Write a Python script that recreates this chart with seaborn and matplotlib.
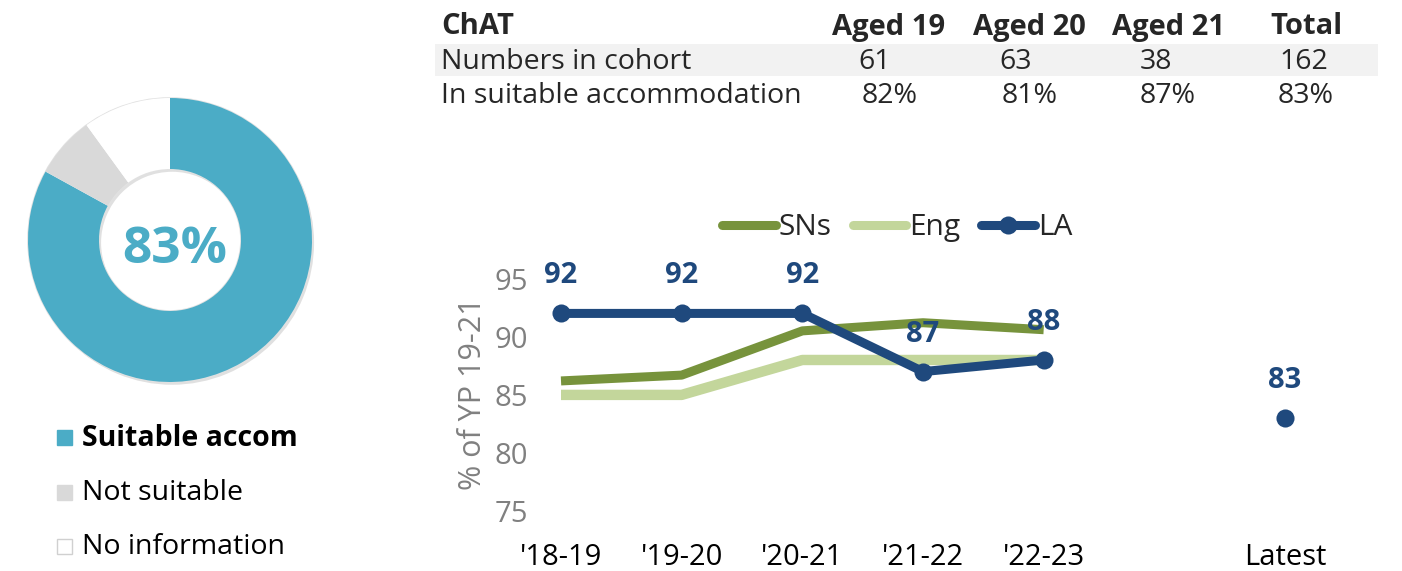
import matplotlib
matplotlib.use("Agg")
import matplotlib.pyplot as plt
import matplotlib.patheffects as pe
from matplotlib.patches import Wedge, Rectangle
from matplotlib.lines import Line2D
import numpy as np
import pandas as pd
import seaborn as sns

sns.set_theme(style="white")
plt.rcParams["font.family"] = ["Open Sans", "DejaVu Sans"]

# ---- data ----
donut_labels = ["Suitable accom", "Not suitable", "No information"]
donut_values = [83, 7, 10]
headline = "83%"

table_header = ["ChAT", "Aged 19", "Aged 20", "Aged 21", "Total"]
row_cohort = ["Numbers in cohort", "61", "63", "38", "162"]
row_suitable = ["In suitable accommodation", "82%", "81%", "87%", "83%"]

periods = ["'18-19", "'19-20", "'20-21", "'21-22", "'22-23", "", "Latest"]
sns_values = [86.2, 86.7, 90.5, 91.2, 90.6]
eng_values = [85, 85, 88, 88, 88]
la_values = [92, 92, 92, 87, 88]
la_latest = 83

# ---- styling ----
W, H = 1402, 571
C_SUIT = "#4BACC6"
C_NOT = "#D9D9D9"
C_NOINFO = "#FFFFFF"
C_SNS = "#77933C"
C_ENG = "#C3D69B"
C_LA = "#1F497D"
C_GREY = "#808080"
FS_TAB = 20.5
FS_HEAD = 21
FS_TICK = 21
FS_LAB = 21


def fx(x):
    return x / W


def fy(y):
    return 1 - y / H


fig = plt.figure(figsize=(W / 100, H / 100), dpi=100)

# ---- donut ----
cx, cy, r = 170, 240, 142
half = r * 1.05
dax = fig.add_axes([fx(cx - half), fy(cy + half), 2 * half / W, 2 * half / H])
ring = Wedge((0, 0), 1, 0, 360, width=0.5, facecolor="white", edgecolor="#E2E2E2",
             linewidth=1.2, zorder=0)
ring.set_path_effects([pe.SimplePatchShadow(offset=(1.5, -2), shadow_rgbFace="#999999",
                                            alpha=0.3), pe.Normal()])
dax.add_patch(ring)
dax.pie(donut_values, colors=[C_SUIT, C_NOT, C_NOINFO], startangle=90,
        counterclock=False, radius=1,
        wedgeprops=dict(width=0.5, edgecolor="none"))
dax.set_xlim(-1.05, 1.05)
dax.set_ylim(-1.05, 1.05)
dax.set_aspect("equal")
dax.axis("off")
fig.text(fx(175), fy(250), headline, color=C_SUIT, fontsize=37,
         fontweight="bold", ha="center", va="center")

# donut legend
legend_y = [437, 492, 546]
for lab, col, yy, i in zip(donut_labels, [C_SUIT, C_NOT, C_NOINFO], legend_y, range(3)):
    fig.patches.append(Rectangle((fx(57), fy(yy + 8)), 15 / W, 15 / H,
                                 transform=fig.transFigure, facecolor=col,
                                 edgecolor="#D0D0D0" if col == C_NOINFO else col,
                                 linewidth=1))
    fig.text(fx(82), fy(yy + 1), lab, fontsize=FS_TAB,
             fontweight="bold" if i == 0 else "normal",
             color="black", ha="left", va="center")

# ---- table ----
fig.patches.append(Rectangle((fx(435), fy(76)), (1378 - 435) / W, 32 / H,
                             transform=fig.transFigure, facecolor="#F2F2F2",
                             edgecolor="none", zorder=0))
col_x = [441, 889, 1029, 1168, 1306]
fig.text(fx(col_x[0]), fy(27), table_header[0], fontsize=FS_HEAD, fontweight="bold",
         ha="left", va="center")
for x, t in zip(col_x[1:], table_header[1:]):
    fig.text(fx(x), fy(27), t, fontsize=FS_HEAD, fontweight="bold",
             ha="center", va="center")
for row, yy, xs in [(row_cohort, 62, [875, 1016, 1156, 1304]),
                    (row_suitable, 96, [890, 1030, 1168, 1306])]:
    fig.text(fx(col_x[0]), fy(yy), row[0], fontsize=FS_TAB, ha="left", va="center")
    for x, t in zip(xs, row[1:]):
        fig.text(fx(x), fy(yy), t, fontsize=FS_TAB, ha="center", va="center")

# ---- line chart ----
pos = np.arange(len(periods))
x0, xstep = 561, 120.67
xl, xr = -0.25, 6.4
y90, ystep = 336.7, 11.64
yl, yt = 73, 97
left_px = x0 + xl * xstep
right_px = x0 + xr * xstep
bottom_px = y90 + (90 - yl) * ystep
top_px = y90 - (yt - 90) * ystep
ax = fig.add_axes([fx(left_px), fy(bottom_px), (right_px - left_px) / W,
                   (bottom_px - top_px) / H])

df = pd.DataFrame({
    "x": np.tile(pos[:5], 3),
    "value": sns_values + eng_values + la_values,
    "series": ["SNs"] * 5 + ["Eng"] * 5 + ["LA"] * 5,
})
sns.lineplot(data=df[df.series == "Eng"], x="x", y="value", color=C_ENG,
             linewidth=7.5, ax=ax, solid_capstyle="butt", legend=False)
sns.lineplot(data=df[df.series == "SNs"], x="x", y="value", color=C_SNS,
             linewidth=6.5, ax=ax, solid_capstyle="butt", legend=False)
sns.lineplot(data=df[df.series == "LA"], x="x", y="value", color=C_LA,
             linewidth=6.5, marker="o", markersize=13, markeredgewidth=0,
             ax=ax, legend=False)
sns.scatterplot(x=[pos[6]], y=[la_latest], color=C_LA, s=170, linewidth=0, ax=ax,
                zorder=5)

for xi, v in zip(pos[:5], la_values):
    ax.annotate(f"{v}", (xi, v), xytext=(0, 27), textcoords="offset points",
                ha="center", va="center", color=C_LA, fontsize=FS_LAB,
                fontweight="bold", zorder=6)
ax.annotate(f"{la_latest}", (pos[6], la_latest), xytext=(0, 27),
            textcoords="offset points", ha="center", va="center", color=C_LA,
            fontsize=FS_LAB, fontweight="bold", zorder=6)

ax.set_xlim(xl, xr)
ax.set_ylim(yl, yt)
ax.set_yticks([75, 80, 85, 90, 95])
ax.set_xticks([p for p, t in zip(pos, periods) if t])
ax.set_xticklabels([t for t in periods if t])
ax.tick_params(axis="y", length=0, pad=2, labelsize=FS_TICK, labelcolor=C_GREY)
ax.tick_params(axis="x", length=0, pad=6, labelsize=FS_TICK, labelcolor="black")
ax.set_xlabel("")
ax.set_ylabel("")
for s in ax.spines.values():
    s.set_visible(False)
ax.grid(False)
fig.text(fx(473), fy(394), "% of YP 19-21", rotation=90, color=C_GREY,
         fontsize=22, ha="center", va="center")

handles = [
    Line2D([], [], color=C_SNS, linewidth=6.5, solid_capstyle="round"),
    Line2D([], [], color=C_ENG, linewidth=6.5, solid_capstyle="round"),
    Line2D([], [], color=C_LA, linewidth=6.5, marker="o", markersize=13,
           markeredgewidth=0, solid_capstyle="round"),
]
fig.legend(handles, ["SNs", "Eng", "LA"], loc="center left",
           bbox_to_anchor=(fx(722), fy(228)), bbox_transform=fig.transFigure,
           ncol=3, frameon=False, fontsize=21.5, handlelength=1.8,
           handletextpad=0.1, columnspacing=0.7, borderpad=0, borderaxespad=0)

fig.savefig("out.png", dpi=100)
